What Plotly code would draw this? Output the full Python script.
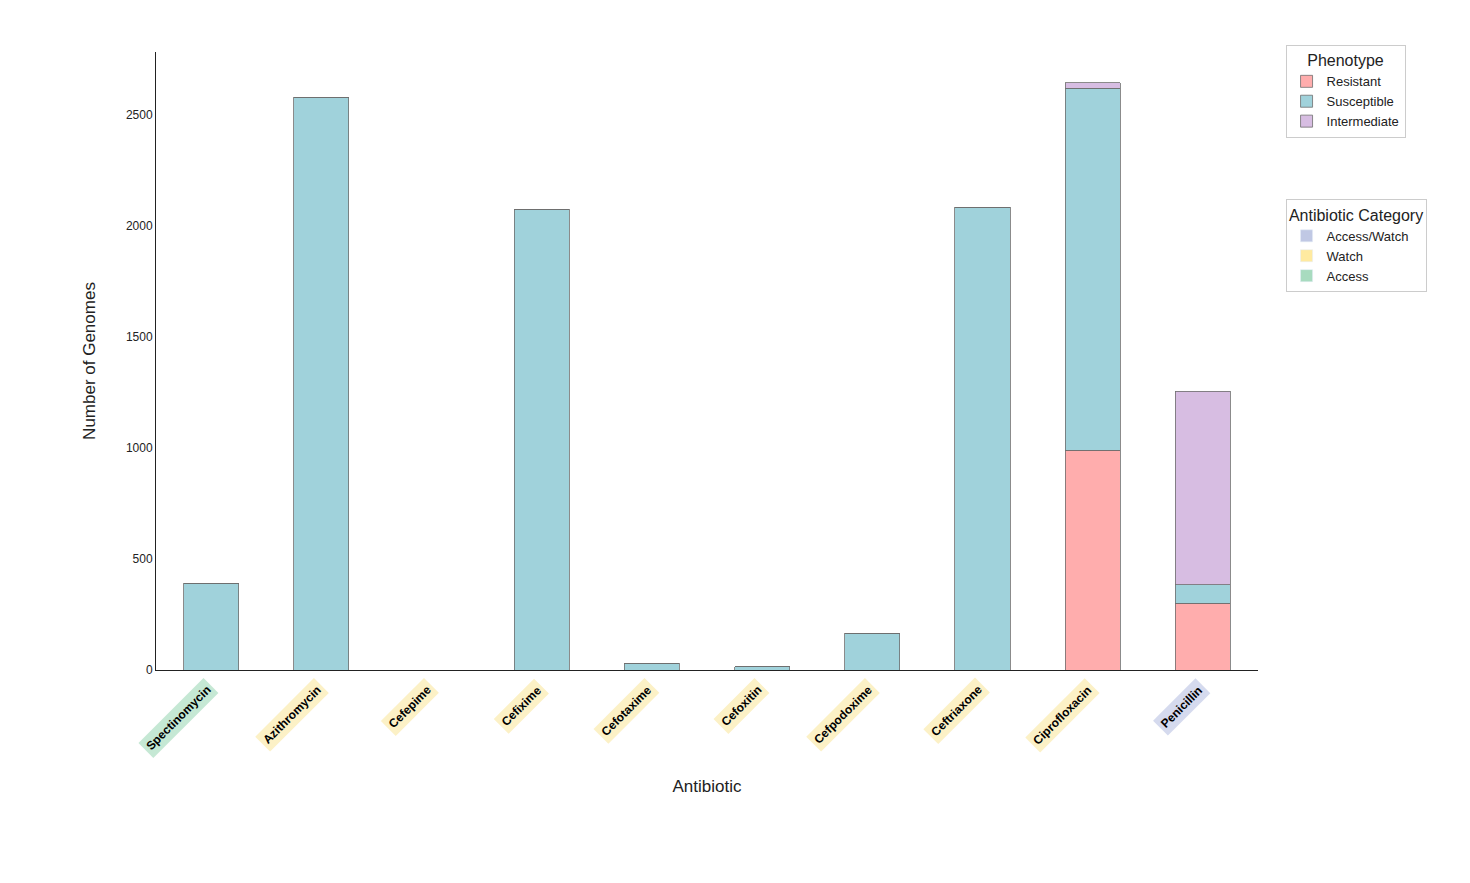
import plotly.graph_objects as go

antibiotics = ["Spectinomycin", "Azithromycin", "Cefepime", "Cefixime", "Cefotaxime",
               "Cefoxitin", "Cefpodoxime", "Ceftriaxone", "Ciprofloxacin", "Penicillin"]
resistant = [0, 0, 0, 0, 0, 0, 0, 0, 990, 300]
susceptible = [390, 2580, 0, 2075, 30, 15, 165, 2085, 1630, 85]
intermediate = [0, 0, 0, 0, 0, 0, 0, 0, 25, 870]
categories = ["Access", "Watch", "Watch", "Watch", "Watch", "Watch", "Watch", "Watch", "Watch", "Access/Watch"]

pheno_colors = {"Resistant": "#ffadad", "Susceptible": "#a0d2db", "Intermediate": "#d7bde2"}
cat_colors = {"Access": "#a8dbbf", "Watch": "#ffeaa0", "Access/Watch": "#c0c8e4"}
cat_bg = {"Access": "#c5e8d4", "Watch": "#fcf1c6", "Access/Watch": "#d5daee"}

fig = go.Figure()
for name, vals in [("Resistant", resistant), ("Susceptible", susceptible), ("Intermediate", intermediate)]:
    fig.add_trace(go.Bar(x=antibiotics, y=vals, name=name, width=0.5,
                         marker=dict(color=pheno_colors[name], line=dict(color="#6e6e6e", width=0.8)),
                         legend="legend"))
for c in ["Access", "Watch", "Access/Watch"]:
    fig.add_trace(go.Bar(x=[None], y=[None], name=c, marker=dict(color=cat_colors[c]), legend="legend2"))

for a, c in zip(antibiotics, categories):
    fig.add_annotation(x=a, y=-0.012, yref="paper", text="<b>" + a + "</b>", showarrow=False,
                       textangle=-45, xanchor="right", yanchor="top", xshift=8,
                       bgcolor=cat_bg[c], borderpad=3,
                       font=dict(family="Liberation Sans, Arial", size=12, color="black"))

fig.update_layout(
    barmode="stack", width=1470, height=883, plot_bgcolor="white", paper_bgcolor="white",
    margin=dict(l=148, r=220, t=44, b=221),
    font=dict(family="Liberation Sans, Arial", size=12, color="#222"),
    xaxis=dict(showticklabels=False, ticks="", range=[-0.5, 9.5], showline=True, linecolor="#222",
               title=dict(text="Antibiotic", font=dict(size=17), standoff=110)),
    yaxis=dict(range=[0, 2784], showgrid=False, showline=True, linecolor="#222", ticks="",
               tickvals=[0, 500, 1000, 1500, 2000, 2500], zeroline=False,
               title=dict(text="Number of Genomes", font=dict(size=17), standoff=25)),
    legend=dict(title=dict(text="Phenotype", side="top center"), x=1.025, y=1.012, xanchor="left", yanchor="top",
                bordercolor="#ccc", borderwidth=1, traceorder="normal", font=dict(size=13)),
    legend2=dict(title=dict(text="Antibiotic Category", side="top center"), x=1.025, y=0.762, xanchor="left",
                 yanchor="top", bordercolor="#ccc", borderwidth=1, font=dict(size=13)),
)
fig.write_html("out.html")
